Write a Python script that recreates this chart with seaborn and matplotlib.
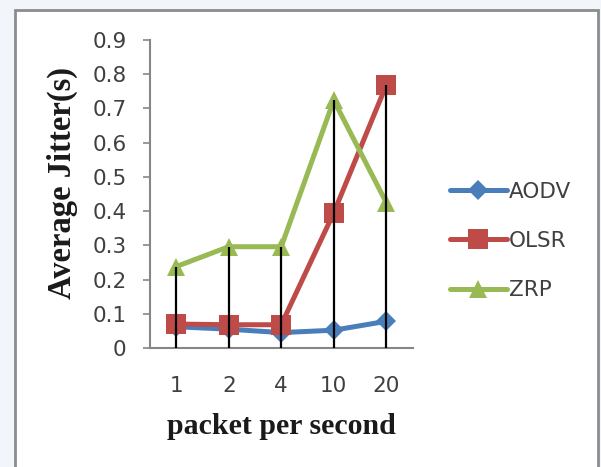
import matplotlib
matplotlib.use("Agg")
import matplotlib.pyplot as plt
import matplotlib.patches as mpatches
import numpy as np
import pandas as pd
import seaborn as sns

# packets per second (categories) and average jitter in seconds per protocol
rates = ["1", "2", "4", "10", "20"]
aodv = [0.062, 0.055, 0.045, 0.052, 0.078]
olsr = [0.070, 0.068, 0.068, 0.395, 0.768]
zrp = [0.238, 0.296, 0.296, 0.724, 0.425]
protocols = ["AODV", "OLSR", "ZRP"]
colors = ["#4a7ebb", "#be4b48", "#98b954"]
markers = ["D", "s", "^"]
y_ticks = [0, 0.1, 0.2, 0.3, 0.4, 0.5, 0.6, 0.7, 0.8, 0.9]

df = pd.DataFrame({
    "rate": rates * 3,
    "jitter": aodv + olsr + zrp,
    "protocol": [p for p in protocols for _ in rates],
})

sns.set_theme(style="white")
plt.rcParams["font.family"] = ["DejaVu Sans"]

W, H = 601, 467
fig = plt.figure(figsize=(W / 100, H / 100), dpi=100, facecolor="#f2f6fb")

# white slide panel with a grey frame, kept behind the axes
panel = mpatches.Rectangle((15 / W, -0.05), (598 - 15) / W, 1.05 - 10 / H,
                           transform=fig.transFigure, facecolor="white",
                           edgecolor="#8c8c8c", linewidth=2, zorder=-10)
fig.patches.append(panel)

ax = fig.add_axes([150 / W, 1 - 348 / H, 262.5 / W, (348 - 40) / H])
ax.set_facecolor("none")
ax.set_zorder(1)

sns.pointplot(data=df, x="rate", y="jitter", hue="protocol", order=rates,
              hue_order=protocols, palette=colors, markers=markers,
              linestyles="-", errorbar=None, ax=ax,
              markersize=12, linewidth=3.6, markeredgewidth=0)

# adjust marker sizes per series
sizes = {"D": 10, "s": 14.5, "^": 12.5}
for line in ax.lines:
    m = line.get_marker()
    if m in sizes:
        line.set_markersize(sizes[m])

# drop lines from the axis up to the highest series at each rate
tops = np.max(np.array([aodv, olsr, zrp]), axis=0)
ax.vlines(np.arange(len(rates)), 0, tops, colors="black", linewidth=1.6,
          zorder=5)

ax.set_ylim(0, 0.9)
ax.set_xlim(-0.5, len(rates) - 0.5)
ax.set_yticks(y_ticks)
ax.set_yticklabels([f"{v:g}" for v in y_ticks])

for side in ["top", "right"]:
    ax.spines[side].set_visible(False)
for side in ["left", "bottom"]:
    ax.spines[side].set_color("#868686")
    ax.spines[side].set_linewidth(1.5)

ax.tick_params(axis="y", left=True, length=5, width=1.2, color="#868686",
               direction="out", pad=12, labelsize=15.5, labelcolor="#404040")
ax.tick_params(axis="x", bottom=False, pad=14, labelsize=15.5,
               labelcolor="#404040")

ax.set_xlabel("packet per second", family="Liberation Serif",
              fontweight="bold", fontsize=21.5, color="#1a1a1a")
ax.set_ylabel("Average Jitter(s)", family="Liberation Serif",
              fontweight="bold", fontsize=23.5, color="#1a1a1a")
ax.xaxis.set_label_coords(0.5, (348 - 413) / 308)
ax.yaxis.set_label_coords((78 - 150) / 262.5, (348 - 183) / 308)

leg = ax.legend(loc="center left", bbox_to_anchor=(441 / W, 1 - 241 / H),
                bbox_transform=fig.transFigure, frameon=False,
                fontsize=15.5, handlelength=2.65, handletextpad=0.1,
                labelspacing=1.36, borderaxespad=0)
for txt in leg.get_texts():
    txt.set_color("#404040")

fig.savefig("out.png", dpi=100, facecolor=fig.get_facecolor())
